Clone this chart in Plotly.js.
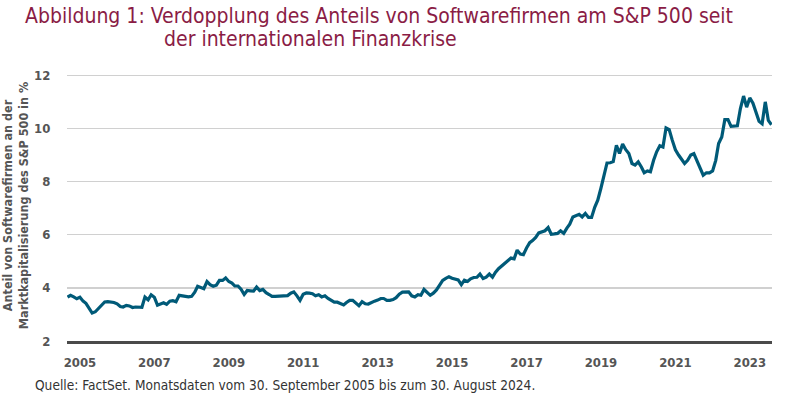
<!DOCTYPE html>
<html>
<head>
<meta charset="utf-8">
<script src="https://cdn.plot.ly/plotly-3.0.1.min.js"></script>
<style>
  html, body { margin: 0; padding: 0; background: #fff; }
  #chart { width: 800px; height: 399px; }
</style>
</head>
<body>
<div id="chart"></div>
<script>
// Monthly data: September 2005 to August 2024
const startYear = 2005;
const startMonth = 9; // September
const shareValues = [
  3.65, 3.72, 3.66, 3.59, 3.65, 3.50, 3.42, 3.22, 3.05, 3.10, 3.22, 3.36,
  3.47, 3.48, 3.47, 3.45, 3.40, 3.30, 3.28, 3.34, 3.32, 3.26, 3.28, 3.27,
  3.27, 3.65, 3.55, 3.74, 3.65, 3.35, 3.40, 3.44, 3.38, 3.50, 3.52, 3.48,
  3.72, 3.70, 3.65, 3.66, 3.68, 3.84, 4.06, 4.02, 3.97, 4.24, 4.12, 4.06,
  4.10, 4.28, 4.28, 4.37, 4.24, 4.18, 4.07, 4.07, 3.95, 3.75, 3.90, 3.89,
  3.88, 4.03, 3.90, 3.94, 3.82, 3.75, 3.68, 3.68, 3.68, 3.70, 3.71, 3.71,
  3.80, 3.85, 3.70, 3.53, 3.76, 3.81, 3.80, 3.78, 3.70, 3.74, 3.66, 3.70,
  3.60, 3.52, 3.46, 3.46, 3.42, 3.36, 3.45, 3.53, 3.53, 3.42, 3.33, 3.48,
  3.40, 3.39, 3.46, 3.50, 3.54, 3.60, 3.60, 3.53, 3.53, 3.56, 3.63, 3.76,
  3.84, 3.84, 3.85, 3.70, 3.66, 3.74, 3.72, 3.94, 3.82, 3.72, 3.80, 3.92,
  4.10, 4.28, 4.36, 4.42, 4.36, 4.33, 4.30, 4.12, 4.29, 4.24, 4.34, 4.39,
  4.40, 4.52, 4.35, 4.40, 4.52, 4.40, 4.58, 4.72, 4.82, 4.92, 5.00, 5.12,
  5.09, 5.42, 5.27, 5.25, 5.50, 5.70, 5.78, 5.90, 6.07, 6.10, 6.15, 6.27,
  6.02, 6.03, 6.05, 6.15, 6.05, 6.25, 6.40, 6.67, 6.72, 6.77, 6.67, 6.80,
  6.65, 6.65, 7.03, 7.30, 7.75, 8.30, 8.70, 8.71, 8.75, 9.37, 9.06, 9.41,
  9.20, 9.06, 8.68, 8.62, 8.74, 8.55, 8.33, 8.40, 8.37, 8.80, 9.12, 9.35,
  9.30, 10.02, 9.96, 9.56, 9.20, 9.00, 8.85, 8.68, 8.80, 9.00, 9.05, 8.80,
  8.55, 8.24, 8.33, 8.33, 8.40, 8.80, 9.43, 9.68, 10.33, 10.33, 10.08, 10.10,
  10.10, 10.75, 11.22, 10.80, 11.15, 10.95, 10.62, 10.27, 10.18, 11.00, 10.30, 10.14
];
const tickPositions = ['2006-01-01','2008-01-01','2010-01-01','2012-01-01','2014-01-01',
                       '2016-01-01','2018-01-01','2020-01-01','2022-01-01','2024-01-01'];
const tickLabels = ['2005','2007','2009','2011','2013','2015','2017','2019','2021','2023'];
const yTicks = [2, 4, 6, 8, 10, 12];

const dates = shareValues.map((v, i) => {
  const total = (startMonth - 1) + i;
  const y = startYear + Math.floor(total / 12);
  const m = (total % 12) + 1;
  return y + '-' + String(m).padStart(2, '0') + '-01';
});

const condensed = '"DejaVu Sans Condensed", "DejaVu Sans", sans-serif';
const tickFont = {family: condensed, size: 13, color: '#555555', weight: 'bold'};

const trace = {
  x: dates, y: shareValues, type: 'scatter', mode: 'lines',
  line: {color: '#005a78', width: 3.2, shape: 'linear'},
  hoverinfo: 'skip'
};

const layout = {
  width: 800, height: 399,
  margin: {l: 67, r: 28, t: 70, b: 58},
  paper_bgcolor: '#ffffff', plot_bgcolor: '#ffffff',
  showlegend: false,
  xaxis: {
    type: 'date',
    range: ['2005-08-27', '2024-08-06'],
    tickmode: 'array', tickvals: tickPositions, ticktext: tickLabels,
    showgrid: false, zeroline: false,
    showline: true, linecolor: '#4a4a4a', linewidth: 3,
    ticks: 'outside', ticklen: 7, tickcolor: 'rgba(0,0,0,0)',
    tickfont: tickFont
  },
  yaxis: {
    range: [2, 12.2],
    tickmode: 'array', tickvals: yTicks,
    showgrid: true, gridcolor: '#d0d0d0', gridwidth: 1.5,
    zeroline: false, showline: false,
    ticks: 'outside', ticklen: 13, tickcolor: 'rgba(0,0,0,0)',
    tickfont: tickFont,
    title: {
      text: 'Anteil von Softwarefirmen an der<br>Marktkapitalisierung des S&P 500 in %',
      font: {family: condensed, size: 12.5, color: '#555555', weight: 'bold'},
      standoff: 2
    }
  },
  annotations: [
    {text: 'Abbildung 1: Verdopplung des Anteils von Softwarefirmen am S&P 500 seit',
     xref: 'paper', yref: 'paper', x: -0.063, y: 1.2, xanchor: 'left', yanchor: 'middle',
     showarrow: false, font: {family: condensed, size: 21, color: '#8a1c45'}},
    {text: 'der internationalen Finanzkrise',
     xref: 'paper', yref: 'paper', x: 0.135, y: 1.113, xanchor: 'left', yanchor: 'middle',
     showarrow: false, font: {family: condensed, size: 21, color: '#8a1c45'}},
    {text: 'Quelle: FactSet. Monatsdaten vom 30. September 2005 bis zum 30. August 2024.',
     xref: 'paper', yref: 'paper', x: -0.048, y: -0.162, xanchor: 'left', yanchor: 'middle',
     showarrow: false, font: {family: condensed, size: 13.6, color: '#333333'}}
  ]
};

Plotly.newPlot('chart', [trace], layout, {displayModeBar: false, staticPlot: true});
</script>
</body>
</html>
